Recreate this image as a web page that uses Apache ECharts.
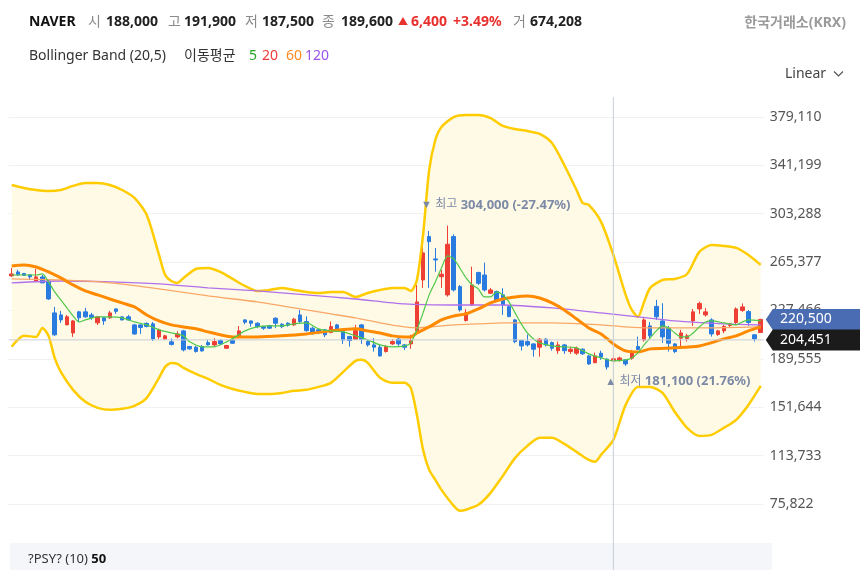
<!DOCTYPE html>
<html>
<head>
<meta charset="utf-8">
<script src="https://cdn.jsdelivr.net/npm/echarts@6/dist/echarts.min.js"></script>
<style>html,body{margin:0;padding:0;background:#fff}#c{width:864px;height:570px}</style>
</head>
<body>
<div id="c"></div>
<script>
// ---------------- DATA ----------------
// candles: [open, close, low, high]
const candles = [
[254600,256100,253800,260800],[257700,255400,254600,259300],[256500,255000,254600,256900],[255400,253800,251400,256100],
[250600,253800,250600,260000],[253800,249100,249100,255400],[250600,236500,235800,251400],[225600,208400,207600,230300],
[224000,220100,217800,227200],[216200,222500,216200,224000],[209900,219300,206800,220100],[226400,221700,218500,227200],
[226400,222500,221700,229500],[224000,222100,220100,225600],[217800,222500,216200,223200],[221700,219300,216200,222500],
[221700,225600,220900,227200],[228700,226800,224800,229100],[222500,220100,219700,222800],[222500,220100,219700,224000],
[216200,209100,208400,217000],[216200,214200,209100,216600],[217400,215000,214200,218100],[217000,205200,203600,218500],
[206800,212300,205200,213400],[205200,207600,204400,208400],[202900,200900,200100,205600],[206800,209100,205600,211100],
[211500,196600,195400,212300],[199300,197400,196600,199700],[198700,195300,194500,199700],[199200,195800,195300,200500],
[202300,200500,200100,204400],[200500,203100,199200,205800],[203900,201300,200500,205000],[197900,200000,197400,200500],
[204400,201800,201300,205800],[207000,211500,206500,215300],[220100,218300,216700,220600],[219300,217500,214800,219600],
[217500,214800,213600,218300],[214800,213600,212300,215400],[215600,213600,213000,216200],[221400,217500,213600,222200],
[216700,214800,213600,217500],[217500,216000,214800,218300],[216200,220700,215400,221700],[224000,218800,217500,227900],
[218800,211700,210900,222800],[213600,210200,208400,214800],[212300,210900,208900,212800],[212300,208400,206600,212800],
[210200,214800,209700,218800],[216200,212800,210900,217000],[210900,204400,201300,212300],[207000,203900,199200,207600],
[205000,211700,204400,216200],[216200,205000,201300,217000],[203100,200500,199200,204400],[200500,198700,195300,205800],
[198700,191900,191300,200500],[195300,199200,194500,200500],[201300,203100,200500,205000],[205000,201300,199700,205800],
[200500,198700,196600,201300],[201300,203900,197400,208400],[211500,234200,210700,247500],[251400,272600,245200,284300],
[285400,281400,245200,289800],[267900,267100,257900,276500],[254000,255900,245200,259300],[239700,279400,238300,294000],
[285400,243600,242300,287200],[246200,227900,226600,247500],[219600,225600,218800,228500],[231900,247500,231100,261800],
[257200,248800,247500,257900],[255300,243600,242300,265000],[241000,243600,240500,245200],[242300,235800,234400,243100],
[239700,231800,224000,244900],[230500,222700,222200,231800],[220100,203100,201800,220900],[203900,199700,196100,204400],
[203100,200500,199200,208700],[201300,197100,191300,201800],[198700,205000,191300,205800],[205000,200500,199200,205800],
[202300,197900,196000,203100],[196000,200500,193500,203100],[200500,196000,193500,201300],[195300,197100,193500,199200],
[194000,197900,192700,199200],[197100,193500,192700,197900],[191900,185600,184800,192700],[186600,191900,186200,194500],
[194000,190900,188800,196000],[189300,183200,181100,190100],[188000,189600,187500,191900],[188400,190300,187400,191300],
[188800,185600,184100,189300],[190100,194500,188800,196600],[199200,197000,196600,207000],[204400,220100,203100,221400],
[215400,207600,205600,218500],[230700,222500,220100,235800],[219300,206800,202100,233200],[213800,201800,195300,215400],
[201300,195300,194000,201800],[205800,209900,199200,212300],[205600,207600,203100,209100],[219300,226400,215400,228700],
[228700,233000,224800,234400],[224000,226400,222700,229500],[220100,209100,207000,221400],[208700,211500,207600,212300],
[211500,215000,209700,216200],[215800,217100,214600,217800],[218100,228700,216200,229900],[227500,230300,226400,233000],
[226600,218100,215400,227900],[208400,205200,203100,208700],[210200,220500,209900,220900]
];
const categories = candles.map((c, i) => String(i));

// indicator lines: [candle index, value]
const bbUpper = [[0,325800],[2,323500],[4,321900],[6,321100],[8,321900],[10,325100],[12,327400],[14,327400],[16,325800],[18,321900],[20,315700],[22,302300],[24,271000],[25,255300],[26,250600],[27,249100],[28,253000],[30,260000],[32,260800],[34,257700],[36,252200],[38,246700],[40,242800],[42,243600],[44,245200],[46,243600],[48,242000],[50,241200],[52,242000],[54,242000],[56,238100],[58,241200],[60,243600],[62,245200],[64,245200],[65,242800],[66,251400],[67,286700],[68,337600],[69,361100],[70,371300],[72,379100],[74,380700],[76,380700],[78,378300],[80,372100],[82,369700],[84,368100],[86,365800],[88,358700],[90,341500],[92,321900],[93,311700],[94,310200],[96,296900],[98,271000],[100,239700],[101,227900],[102,222500],[103,234200],[104,245200],[106,251400],[108,252200],[110,256100],[112,273400],[114,278800],[116,278100],[118,276500],[120,271000],[122,263200]];
const bbLower = [[0,199000],[2,207600],[4,206800],[5,213800],[6,207600],[7,190300],[8,179400],[10,165300],[12,155900],[14,151200],[16,149600],[18,150400],[20,152700],[22,159000],[24,174700],[25,183300],[26,186400],[27,185600],[28,182500],[30,177800],[32,173900],[34,169200],[36,166000],[38,163700],[40,162100],[42,162100],[44,162900],[46,164500],[48,165300],[50,167600],[52,170800],[54,179400],[56,188000],[57,188800],[58,186400],[60,174700],[62,170800],[64,170800],[65,166800],[66,145700],[67,118300],[68,102600],[69,94800],[70,86900],[72,74400],[73,70500],[74,71300],[76,75200],[78,84600],[80,97900],[82,112000],[84,121400],[86,127700],[88,127700],[90,123000],[92,116700],[94,110400],[95,108900],[96,114400],[98,126100],[100,153500],[102,167600],[104,167600],[106,162900],[108,148000],[110,135500],[112,129200],[114,130000],[116,135500],[118,141800],[120,153500],[122,168400]];
const ma20 = [[0,262400],[2,263200],[4,261600],[6,257700],[8,253000],[10,247500],[12,242800],[14,239700],[16,236500],[18,233400],[20,230300],[22,224000],[24,219300],[26,216200],[28,214600],[30,213100],[32,210700],[34,208400],[36,206800],[40,206800],[44,207600],[48,209100],[52,211500],[56,213100],[58,211500],[60,209900],[62,207600],[64,206800],[65,206800],[66,209900],[68,214600],[70,220100],[72,223200],[74,224800],[76,228700],[78,233400],[80,236500],[82,238100],[84,238900],[86,237300],[88,233400],[90,227900],[92,220900],[94,213800],[96,209100],[98,201300],[100,195800],[102,195000],[104,197400],[108,198200],[112,199700],[116,205200],[118,207600],[120,211500],[122,214600]];
const ma60 = [[0,252200],[8,251400],[16,249100],[24,244400],[32,238900],[40,234200],[44,231100],[48,227900],[52,224800],[56,221700],[60,217800],[64,214600],[66,213800],[68,214600],[72,216200],[76,217000],[80,217800],[88,217800],[96,216200],[100,214600],[104,213800],[112,213800],[122,214600]];
const ma120 = [[0,249100],[8,250600],[16,249900],[24,248300],[32,245200],[40,242800],[48,239700],[56,236500],[64,232600],[72,231800],[80,231800],[88,229500],[96,225600],[102,222500],[108,219300],[116,217000],[122,216200]];
const ma5 = [[0,255300],[2,255300],[4,255300],[5,256100],[6,249900],[7,242000],[8,235800],[9,229500],[10,223200],[11,218500],[12,220100],[14,222500],[16,222500],[18,221700],[20,218500],[22,216200],[24,212300],[26,209900],[28,207600],[29,202900],[31,199000],[33,199000],[35,202900],[37,208400],[38,211500],[40,214600],[42,215400],[44,215400],[46,217000],[48,217800],[50,213100],[52,211500],[54,210700],[56,207600],[58,204400],[60,200500],[62,199000],[64,199700],[65,202100],[66,212300],[67,225600],[68,239700],[69,249900],[70,260800],[71,270200],[72,267900],[73,260800],[74,253000],[75,247500],[76,244400],[77,238100],[78,238100],[79,242000],[80,239700],[81,234200],[82,225600],[83,217000],[84,209900],[85,205200],[86,202100],[88,199700],[90,199000],[92,198200],[94,193500],[96,190300],[98,188000],[100,188800],[101,190300],[102,194300],[103,200500],[104,206000],[105,211500],[106,215400],[107,213800],[108,209900],[109,206800],[110,206800],[111,209900],[112,214600],[113,218500],[114,219300],[116,217800],[118,216200],[119,218500],[120,220100],[122,219300]];

const yStep = 37911;          // tick step of the price axis
const yMin = 37911;
const yMax = 394776;
const lastPrice = 220500;
const crossIndex = 98;
const crossPrice = 204451;
const volume = 674208;
const highMark = {index: 67, value: 304000, pct: '-27.47%'};
const lowMark = {index: 97, value: 181100, pct: '21.76%'};

// ---------------- STYLE ----------------
const UP = '#ee3f35', DOWN = '#2a7be0';
const N = candles.length;
const FONT = '"Noto Sans", "Noto Sans CJK KR", sans-serif';
const fmt = v => Math.round(v).toLocaleString('en-US');

const chart = echarts.init(document.getElementById('c'), null, {renderer: 'canvas'});

function lineSeries(data, color, width, z) {
  return {type: 'line', xAxisIndex: 1, yAxisIndex: 0, data: data, showSymbol: false, symbol: 'none',
    smooth: 0.25, silent: true, z: z, lineStyle: {color: color, width: width}};
}

const option = {
  animation: false,
  backgroundColor: '#ffffff',
  grid: {left: 8.6, right: 100.2, top: 97, bottom: 17.6, containLabel: false},
  xAxis: [
    {type: 'category', data: categories, boundaryGap: true, show: false},
    {type: 'value', min: -0.5, max: N - 0.5, show: false}
  ],
  yAxis: [{
    type: 'value', position: 'right', min: yMin, max: yMax, interval: yStep,
    axisLine: {show: false}, axisTick: {show: false},
    splitLine: {show: true, showMinLine: false, showMaxLine: false, lineStyle: {color: '#f1f1f1', width: 1}},
    axisLabel: {show: true, margin: 6, color: '#555', fontSize: 14, fontFamily: FONT,
      showMinLabel: false, showMaxLabel: false, formatter: v => fmt(v)}
  }],
  series: [
    {
      type: 'custom', xAxisIndex: 1, yAxisIndex: 0, silent: true, z: 1, clip: true,
      data: [[0, bbUpper[0][1]]],
      renderItem: function (params, api) {
        const pts = bbUpper.map(p => api.coord(p)).concat(bbLower.slice().reverse().map(p => api.coord(p)));
        return {type: 'polygon', shape: {points: pts}, style: {fill: '#fffae6'}};
      }
    },
    {
      type: 'candlestick', xAxisIndex: 0, yAxisIndex: 0, data: candles, barWidth: 4, z: 3, silent: true,
      itemStyle: {color: UP, color0: DOWN, borderColor: UP, borderColor0: DOWN, borderWidth: 1}
    },
    lineSeries(bbUpper, '#ffcc00', 2.5, 4),
    lineSeries(bbLower, '#ffcc00', 2.5, 4),
    lineSeries(ma120, '#b070ec', 1.3, 5),
    lineSeries(ma60, '#f9a868', 1.3, 5),
    lineSeries(ma20, '#ff8a00', 3, 6),
    lineSeries(ma5, '#4fc84a', 1.2, 7)
  ]
};
chart.setOption(option);

// ---------------- overlay (positions from the library's scales) ----------------
const X = i => chart.convertToPixel({xAxisIndex: 1}, i);
const Y = v => chart.convertToPixel({yAxisIndex: 0}, v);
const xL = X(-0.5), xR = X(N - 0.5), yT = Y(yMax);
const cx = X(crossIndex), cy = Y(crossPrice), ly = Y(lastPrice);
const hx = X(highMark.index), hy = Y(highMark.value);
const lx = X(lowMark.index), lyy = Y(lowMark.value);

const cc = candles[crossIndex];
const prevClose = candles[crossIndex - 1][1];
const chg = cc[1] - prevClose;
const chgPct = (chg / prevClose * 100).toFixed(2);

function txt(x, y, text, opt) {
  return Object.assign({type: 'text', x: x, y: y, z: 80, silent: true,
    style: Object.assign({text: text, fill: '#222', fontSize: 14, fontFamily: FONT,
      textVerticalAlign: 'middle', textAlign: 'left'}, opt || {})});
}
function tag(y, text, color) {
  return [
    {type: 'polygon', z: 90, silent: true,
      shape: {points: [[xR + 2, y], [xR + 9, y - 10.5], [860, y - 10.5], [860, y + 10.5], [xR + 9, y + 10.5]]},
      style: {fill: color}},
    {type: 'text', z: 91, silent: true, x: 780, y: y,
      style: {text: text, fill: '#fff', fontSize: 14, fontFamily: FONT, textVerticalAlign: 'middle'}}
  ];
}

const B = {fontWeight: 'bold', fill: '#222'};
const G = {fill: '#8a8a8a'};
const R = {fontWeight: 'bold', fill: '#e8312e'};
const markRich = {a: {fontSize: 11, fill: '#7d8aa6'}, b: {fontSize: 12, fill: '#7d8aa6', fontFamily: FONT},
                  c: {fontSize: 13, fontWeight: 'bold', fill: '#7d8aa6', fontFamily: FONT}};

const graphic = [
  {type: 'rect', z: 50, silent: true, shape: {x: xL + 1.5, y: 543, width: 762, height: 27}, style: {fill: '#f4f6f9'}},
  {type: 'line', z: 60, silent: true, shape: {x1: cx, y1: yT, x2: cx, y2: 570}, style: {stroke: '#c7ccd8', lineWidth: 1}},
  {type: 'line', z: 60, silent: true, shape: {x1: xL, y1: cy, x2: xR, y2: cy}, style: {stroke: '#c7ccd8', lineWidth: 1}},
  ...tag(ly, fmt(lastPrice), '#4a6cb3'),
  ...tag(cy, fmt(crossPrice), '#1b1b1b'),
  // header row 1
  txt(29, 22, 'NAVER', {fontWeight: 'bold', fill: '#111'}),
  txt(88, 22, '시', G), txt(106, 22, fmt(cc[0]), B),
  txt(168, 22, '고', G), txt(184, 22, fmt(cc[3]), B),
  txt(245, 22, '저', G), txt(262, 22, fmt(cc[2]), B),
  txt(322, 22, '종', G), txt(341, 22, fmt(cc[1]), B),
  txt(398, 22, '▲', {fill: '#e8312e', fontSize: 10}),
  txt(411, 22, fmt(chg), R),
  txt(453, 22, '+' + chgPct + '%', R),
  txt(513, 22, '거', G), txt(530, 22, fmt(volume), B),
  txt(846, 23, '한국거래소(KRX)', {fill: '#9a9a9a', fontWeight: 'bold', textAlign: 'right'}),
  // header row 2
  txt(29, 56, 'Bollinger Band (20,5)', {fill: '#333'}),
  txt(184, 56, '이동평균', {fill: '#333'}),
  txt(249, 56, '5', {fill: '#2aa52a'}),
  txt(262, 56, '20', {fill: '#ef3b3b'}),
  txt(286, 56, '60', {fill: '#ff8a22'}),
  txt(305, 56, '120', {fill: '#9a55ee'}),
  txt(785, 74, 'Linear', {fill: '#444'}),
  {type: 'polyline', z: 80, silent: true, shape: {points: [[834, 71.5], [838.5, 76], [843, 71.5]]}, style: {stroke: '#555', lineWidth: 1.2, fill: null}},
  // annotations
  {type: 'text', z: 85, silent: true, x: hx - 2, y: hy - 8,
    style: {text: '{a|▼} {b|최고} {c|' + fmt(highMark.value) + ' (' + highMark.pct + ')}', textVerticalAlign: 'middle', rich: markRich}},
  {type: 'text', z: 85, silent: true, x: lx - 2, y: lyy + 12,
    style: {text: '{a|▲} {b|최저} {c|' + fmt(lowMark.value) + ' (' + lowMark.pct + ')}', textVerticalAlign: 'middle', rich: markRich}},
  // sub panel title
  {type: 'text', z: 85, silent: true, x: 28, y: 559,
    style: {text: '{a|?PSY? (10) }{b|50}', textVerticalAlign: 'middle',
      rich: {a: {fontSize: 13, fill: '#333', fontFamily: FONT}, b: {fontSize: 13, fontWeight: 'bold', fill: '#111', fontFamily: FONT}}}}
];
chart.setOption({graphic: graphic});
</script>
</body>
</html>
